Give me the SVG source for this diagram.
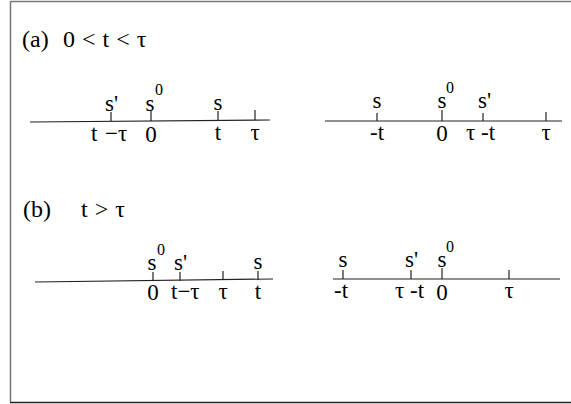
<svg xmlns="http://www.w3.org/2000/svg" width="571" height="404" viewBox="0 0 571 404">
<style>
text{font-family:"Liberation Serif","Times New Roman",serif;fill:#000}
.l{font-size:23px}
.t{font-size:24px}
.sup{font-size:16px}
.m{text-anchor:middle}
.ax{stroke:#222;stroke-width:1.2;fill:none}
.tk{stroke:#222;stroke-width:1.2}
</style>
<rect width="571" height="404" fill="#fff"/>
<g id="frame">
<line x1="10.5" y1="1.5" x2="571" y2="1.5" stroke="#777" stroke-width="1.5"/>
<line x1="10.5" y1="1" x2="10.5" y2="402" stroke="#777" stroke-width="1.5"/>
<line x1="10" y1="402.5" x2="571" y2="402.5" stroke="#222" stroke-width="1.5"/>
</g>
<g id="title-a"><text class="t" x="22" y="47">(a)</text><text class="t" x="63" y="47" word-spacing="1">0 &lt; t &lt; τ</text></g>
<g id="title-b"><text class="t" x="23" y="217">(b)</text><text class="t" x="81" y="217" word-spacing="1">t &gt; τ</text></g>
<g id="connectors">
<line class="ax" x1="30" y1="122" x2="270" y2="120"/>
<line class="ax" x1="325" y1="121" x2="562" y2="121"/>
<line class="ax" x1="35" y1="282" x2="273" y2="279"/>
<line class="ax" x1="333" y1="279" x2="560" y2="279"/>
</g>
<g id="a-left">
<line class="tk" x1="111" y1="112" x2="111" y2="121"/>
<line class="tk" x1="151" y1="111" x2="151" y2="121"/>
<line class="tk" x1="218" y1="111" x2="218" y2="120"/>
<line class="tk" x1="255" y1="110" x2="255" y2="120"/>
<text class="l" x="105" y="111">s'</text>
<text class="l m" x="150" y="111">s</text><text class="sup" x="155" y="95">0</text>
<text class="l m" x="218" y="110">s</text>
<text class="l" x="91" y="141">t</text><text class="l" x="105" y="141">−τ</text>
<text class="l m" x="151" y="142">0</text>
<text class="l m" x="218" y="140">t</text>
<text class="l m" x="255" y="140">τ</text>
</g>
<g id="a-right">
<line class="tk" x1="377" y1="113" x2="377" y2="121"/>
<line class="tk" x1="442" y1="110" x2="442" y2="121"/>
<line class="tk" x1="483" y1="113" x2="483" y2="121"/>
<line class="tk" x1="546" y1="112" x2="546" y2="121"/>
<text class="l m" x="377" y="108">s</text>
<text class="l m" x="442" y="108">s</text><text class="sup" x="446" y="93">0</text>
<text class="l" x="478" y="108">s'</text>
<text class="l" x="370" y="140">-t</text>
<text class="l m" x="442" y="141">0</text>
<text class="l" x="466" y="140">τ -t</text>
<text class="l m" x="546" y="140">τ</text>
</g>
<g id="b-left">
<line class="tk" x1="153" y1="272" x2="153" y2="281"/>
<line class="tk" x1="180" y1="272" x2="180" y2="281"/>
<line class="tk" x1="223" y1="271" x2="223" y2="280"/>
<line class="tk" x1="258" y1="271" x2="258" y2="280"/>
<text class="l m" x="152" y="270">s</text><text class="sup" x="157" y="255">0</text>
<text class="l" x="174" y="270">s'</text>
<text class="l m" x="258" y="269">s</text>
<text class="l m" x="153" y="300">0</text>
<text class="l" x="171" y="299">t−τ</text>
<text class="l m" x="223" y="299">τ</text>
<text class="l m" x="258" y="299">t</text>
</g>
<g id="b-right">
<line class="tk" x1="343" y1="270" x2="343" y2="279"/>
<line class="tk" x1="411" y1="270" x2="411" y2="279"/>
<line class="tk" x1="442" y1="268" x2="442" y2="279"/>
<line class="tk" x1="509" y1="270" x2="509" y2="279"/>
<text class="l m" x="343" y="267">s</text>
<text class="l" x="405" y="267">s'</text>
<text class="l m" x="442" y="267">s</text><text class="sup" x="446" y="252">0</text>
<text class="l" x="334" y="298">-t</text>
<text class="l" x="395" y="298">τ -t</text>
<text class="l m" x="442" y="300">0</text>
<text class="l m" x="509" y="298">τ</text>
</g>
</svg>
